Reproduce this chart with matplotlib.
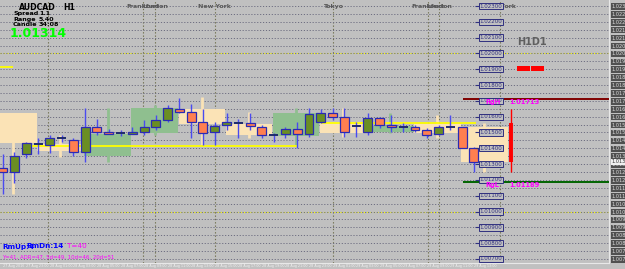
import matplotlib
matplotlib.use('Agg')
import matplotlib.pyplot as plt
from matplotlib.ticker import MultipleLocator, FormatStrFormatter

# H1 bars, index 0 = leftmost visible bar
opens = [1.01275, 1.01250, 1.01364, 1.01424, 1.01421, 1.01465, 1.01452, 1.01377, 1.01535, 1.01503,
         1.01497, 1.01490, 1.01503, 1.01535, 1.01579, 1.01649, 1.01630, 1.01566, 1.01503, 1.01547,
         1.01560, 1.01560, 1.01535, 1.01484, 1.01490, 1.01522, 1.01490, 1.01566, 1.01623, 1.01598,
         1.01541, 1.01503, 1.01592, 1.01547, 1.01535, 1.01535, 1.01516, 1.01490, 1.01535, 1.01535,
         1.01402]
highs = [1.01364, 1.01377, 1.01440, 1.01465, 1.01484, 1.01484, 1.01465, 1.01655, 1.01585, 1.01522,
         1.01516, 1.01535, 1.01579, 1.01611, 1.01674, 1.01718, 1.01680, 1.01649, 1.01566, 1.01623,
         1.01585, 1.01623, 1.01547, 1.01497, 1.01535, 1.01566, 1.01655, 1.01649, 1.01655, 1.01655,
         1.01566, 1.01623, 1.01598, 1.01611, 1.01560, 1.01547, 1.01528, 1.01547, 1.01611, 1.01535,
         1.01408]
lows = [1.01111, 1.01180, 1.01339, 1.01364, 1.01370, 1.01440, 1.01351, 1.01313, 1.01484, 1.01490,
        1.01478, 1.01490, 1.01484, 1.01516, 1.01566, 1.01623, 1.01465, 1.01421, 1.01421, 1.01516,
        1.01465, 1.01516, 1.01465, 1.01440, 1.01465, 1.01402, 1.01471, 1.01560, 1.01579, 1.01471,
        1.01471, 1.01484, 1.01528, 1.01503, 1.01503, 1.01503, 1.01465, 1.01484, 1.01516, 1.01402,
        1.01250]
closes = [1.01250, 1.01351, 1.01433, 1.01424, 1.01465, 1.01465, 1.01377, 1.01535, 1.01503, 1.01493,
          1.01497, 1.01503, 1.01535, 1.01579, 1.01655, 1.01630, 1.01566, 1.01497, 1.01541, 1.01566,
          1.01560, 1.01541, 1.01484, 1.01484, 1.01522, 1.01490, 1.01617, 1.01623, 1.01598, 1.01503,
          1.01541, 1.01592, 1.01547, 1.01535, 1.01535, 1.01516, 1.01484, 1.01535, 1.01535, 1.01402,
          1.01314]

# H4 overlay boxes (first H1 bar of each block)
htf_start = [-1, 3, 7, 11, 15, 19, 23, 27, 31, 35, 39]
htf_open = [1.01623, 1.01427, 1.01351, 1.01497, 1.01649, 1.01554, 1.01478, 1.01566, 1.01503, 1.01554, 1.01535]
htf_high = [1.01623, 1.01484, 1.01655, 1.01674, 1.01724, 1.01630, 1.01655, 1.01655, 1.01623, 1.01611, 1.01560]
htf_low = [1.01111, 1.01345, 1.01313, 1.01484, 1.01421, 1.01465, 1.01421, 1.01471, 1.01497, 1.01465, 1.01250]
htf_close = [1.01433, 1.01383, 1.01490, 1.01655, 1.01554, 1.01484, 1.01623, 1.01497, 1.01541, 1.01497, 1.01314]

# sessions
session_x = [3.85, 11.9, 12.95, 18.0, 28.0, 36.1, 37.05, 42.2]
session_names = ['', 'Frankfurt', 'London', 'New York', 'Tokyo', 'Frankfurt', 'London', 'New York']

price_levels = [1.023, 1.022, 1.021, 1.020, 1.019, 1.018, 1.017, 1.016, 1.015,
                1.014, 1.013, 1.012, 1.011, 1.010, 1.009, 1.008, 1.007]
round_levels = [1.020, 1.010]

yellow_lines = [(-0.3, 0.87, 1.01914), (2.5, 25.0, 1.01414), (27.0, 40.2, 1.01563)]
range_high = 1.01713
range_low = 1.01189
cur_bar = (43.15, 1.01649, 1.01250, 1.01560, 1.01313)  # x, thin hi/lo, thick hi/lo

time_labels = ['27 Aug 2016', '27 Aug 23:00', '28 Aug 01:00', '28 Aug 03:00', '28 Aug 05:00',
               '28 Aug 07:00', '28 Aug 09:00', '28 Aug 11:00', '28 Aug 13:00', '28 Aug 15:00',
               '28 Aug 17:00', '28 Aug 19:00', '28 Aug 21:00', '28 Aug 23:00', '29 Aug 01:00',
               '29 Aug 03:00', '29 Aug 05:00', '29 Aug 07:00', '29 Aug 09:00', '29 Aug 11:00',
               '29 Aug 13:00']

BG = '#c0c0c0'
W, H = 625, 269


def fxy(px, py):
    return px / W, 1 - py / H


fig = plt.figure(figsize=(6.25, 2.69), dpi=100)
fig.patch.set_facecolor(BG)
ax = fig.add_axes([0, 6 / H, 609 / W, 263 / H])
ax.set_facecolor(BG)
ax.set_xlim(-0.23, 51.47)
ax.set_ylim(1.006744, 1.02338)

# grid
ax.yaxis.set_major_locator(MultipleLocator(0.0005))
ax.yaxis.set_major_formatter(FormatStrFormatter('%.5f'))
ax.grid(axis='y', linestyle=(0, (1.2, 1.8)), color='#6e6e82', lw=0.7, zorder=0)
for lv in round_levels:
    ax.axhline(lv, color='#ffff00', linestyle=(0, (1.2, 1.8)), lw=0.8, zorder=1)
for sx in session_x:
    ax.axvline(sx, color='#707050', linestyle=(0, (1.2, 1.8)), lw=0.8, zorder=1)

# H4 boxes
for s, o, h, l, c in zip(htf_start, htf_open, htf_high, htf_low, htf_close):
    col = '#8fbf8f' if c > o else '#fbe3b6'
    ax.bar(s + 1.9, abs(c - o), bottom=min(o, c), width=3.95, color=col, zorder=2, lw=0)
    ax.vlines(s + 1.9, l, h, color=col, lw=2, zorder=2)

# yellow lines
for x0, x1, y in yellow_lines:
    ax.hlines(y, x0, x1, color='#ffff00', lw=1.3, zorder=3)

# candles
for i, (o, h, l, c) in enumerate(zip(opens, highs, lows, closes)):
    ax.vlines(i, l, h, color='#4a4af0', lw=1.0, zorder=4)
    if o == c:
        ax.hlines(o, i - 0.38, i + 0.38, color='#1e2a6e', lw=1.4, zorder=5)
    else:
        col = '#6b8e23' if c > o else '#ff7f50'
        ax.bar(i, abs(c - o), bottom=min(o, c), width=0.76, color=col,
               edgecolor='#2a2ab4', lw=0.9, zorder=5)

# range lines
ax.hlines(range_high, 39.1, 51.5, color='#800000', lw=1.4, zorder=3)
ax.hlines(range_low, 39.1, 51.5, color='#006400', lw=1.4, zorder=3)
ax.text(41.0, range_high - 0.00003, 'RgH', color='#ff00ff', fontsize=4.8,
        fontweight='bold', va='top', ha='left', zorder=8)
ax.text(43.0, range_high - 0.00003, '%.5f' % range_high, color='#ff00ff', fontsize=4.8,
        fontweight='bold', va='top', ha='left', zorder=8)
ax.text(41.0, range_low - 0.00003, 'RgL', color='#ff00ff', fontsize=4.8,
        fontweight='bold', va='top', ha='left', zorder=8)
ax.text(43.0, range_low - 0.00003, '%.5f' % range_low, color='#ff00ff', fontsize=4.8,
        fontweight='bold', va='top', ha='left', zorder=8)

# current range bar
bx, thi, tlo, khi, klo = cur_bar
ax.vlines(bx, tlo, thi, color='#ff0000', lw=1.0, zorder=4)
ax.vlines(bx, klo, khi, color='#ff0000', lw=2.8, zorder=4)

# price level boxes
for lv in price_levels:
    ax.hlines(lv, 40.1, 40.45, color='#303080', lw=0.8, zorder=6)
    ax.text(40.45, lv, '%.5f' % lv, fontsize=4, color='#303080', va='center', ha='left',
            zorder=7, bbox=dict(boxstyle='square,pad=0.12', fc=BG, ec='#303080', lw=0.7))

# session labels
for sx, name in zip(session_x, session_names):
    if name:
        ax.text(sx, 1.0230, name, fontsize=4.5, fontweight='bold', color='#585858',
                ha='center', va='center', zorder=5)

# right axis
ax.yaxis.tick_right()
ax.tick_params(axis='y', length=0, pad=2, labelsize=3.6, labelcolor='#dcdcdc')
for lbl in ax.get_yticklabels():
    lbl.set_bbox(dict(boxstyle='square,pad=0.15', fc='#505050', ec='none'))
ax.text(1.004, closes[-1], '%.5f' % closes[-1], transform=ax.get_yaxis_transform(),
        fontsize=3.6, color='#303030', va='center', ha='left', clip_on=False,
        bbox=dict(boxstyle='square,pad=0.15', fc='#f0f0f0', ec='none'))

# time axis
ax.set_xticks(range(0, 2 * len(time_labels), 2), time_labels)
ax.tick_params(axis='x', length=0, pad=0.6, labelsize=2.4, labelcolor='#f2f2f2')
for lbl in ax.get_xticklabels():
    lbl.set_horizontalalignment('left')

for side in ['left', 'top']:
    ax.spines[side].set_visible(False)
for side in ['right', 'bottom']:
    ax.spines[side].set_color('#e8e8e8')
    ax.spines[side].set_linewidth(0.8)

# info panel
fig.text(*fxy(19, 7.5), 'AUDCAD', fontsize=5.6, fontweight='bold', color='black', va='center')
fig.text(*fxy(63, 7.5), 'H1', fontsize=5.6, fontweight='bold', color='black', va='center')
info = [('Spread', '1.1'), ('Range', '5.40'), ('Candle', '34:08')]
for k, (name, val) in enumerate(info):
    fig.text(*fxy(13, 13.5 + 5.6 * k), name, fontsize=4.6, fontweight='bold', color='black', va='center')
    fig.text(*fxy(39, 13.5 + 5.6 * k), val, fontsize=4.6, fontweight='bold', color='black', va='center')
fig.text(*fxy(10, 33.5), '%.5f' % closes[-1], fontsize=9, fontweight='bold', color='#00ff00', va='center')

fig.text(*fxy(517, 42), 'H1D1', fontsize=7, fontweight='bold', color='#606060', va='center')
ax.bar([44.2, 45.4], [0.00032, 0.00032], bottom=1.01888, width=1.05, color='#ff0000', zorder=6)

fig.text(*fxy(2, 246.5), 'RmUp:4', fontsize=5.2, fontweight='bold', color='#0000ff', va='center')
fig.text(*fxy(26, 246.5), 'RmDn:14', fontsize=5.2, fontweight='bold', color='#0000ff', va='center')
fig.text(*fxy(67, 246.5), 'T=40', fontsize=5.2, color='#ff00ff', va='center')
fig.text(*fxy(2, 257), 'Y=41, ADR=47, 5d=49, 10d=46, 20d=51', fontsize=3.9, color='#ff00ff', va='center')

fig.savefig('out.png', dpi=100, facecolor=fig.get_facecolor())
